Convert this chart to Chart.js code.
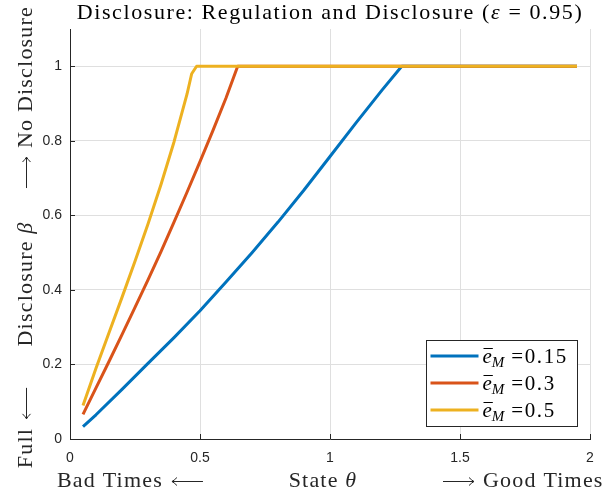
<!DOCTYPE html>
<html>
<head>
<meta charset="utf-8">
<script src="https://cdn.jsdelivr.net/npm/chart.js@4.4.0/dist/chart.umd.min.js"></script>
<style>
  html, body { margin: 0; padding: 0; background: #fff; }
  canvas { display: block; }
</style>
</head>
<body>
<canvas id="chart" width="604" height="494"></canvas>
<script>
// values (state theta -> disclosure beta)
const thetaBlue = [0.05, 0.1, 0.2, 0.3, 0.4, 0.5, 0.6, 0.7, 0.8, 0.9, 1.0, 1.1, 1.2, 1.276, 1.4, 1.6, 1.8, 1.95];
const betaBlue = [0.033, 0.065, 0.133, 0.203, 0.272, 0.344, 0.421, 0.5, 0.582, 0.668, 0.758, 0.848, 0.936, 1, 1, 1, 1, 1];

const thetaOrange = [0.05, 0.1, 0.15, 0.2, 0.25, 0.3, 0.35, 0.4, 0.45, 0.5, 0.55, 0.6, 0.645, 0.8, 1.0, 1.4, 1.95];
const betaOrange = [0.066, 0.137, 0.208, 0.28, 0.353, 0.427, 0.503, 0.582, 0.662, 0.744, 0.828, 0.915, 1, 1, 1, 1, 1];

const thetaYellow = [0.05, 0.1, 0.15, 0.2, 0.25, 0.3, 0.35, 0.4, 0.45, 0.468, 0.487, 0.6, 1.0, 1.4, 1.95];
const betaYellow = [0.09, 0.19, 0.285, 0.38, 0.477, 0.577, 0.683, 0.797, 0.925, 0.98, 1, 1, 1, 1, 1];

const eBarValues = ['0.15', '0.3', '0.5'];
const lineColors = ['#0072BD', '#D95319', '#EDB120'];
const xTicks = [0, 0.5, 1, 1.5, 2];
const yTicks = [0, 0.2, 0.4, 0.6, 0.8, 1];

const serif = '"Liberation Serif", "DejaVu Serif", serif';
const sans = '"Liberation Sans", Arial, sans-serif';
const ink = '#262626';

function pts(xs, ys) {
  return xs.map((x, i) => ({ x: x, y: ys[i] }));
}

const rm = s => s + 'px ' + serif;
const it = s => 'italic ' + s + 'px ' + serif;
const fmt = v => String(Math.round(v * 10) / 10);

// a run is text, a blank gap, or a long arrow (dir -1 / +1) of width w
function runWidth(ctx, r) {
  if (r.w) return r.w;
  ctx.font = r.font;
  return ctx.measureText(r.t).width;
}

function drawArrow(ctx, x, y, w, dir) {
  const ym = y - 5.5;
  const tip = dir > 0 ? x + w : x;
  ctx.save();
  ctx.strokeStyle = ctx.fillStyle;
  ctx.lineWidth = 1;
  ctx.beginPath();
  ctx.moveTo(x, ym); ctx.lineTo(x + w, ym);
  ctx.moveTo(tip - dir * 5, ym - 4);
  ctx.quadraticCurveTo(tip - dir * 2, ym - 1, tip, ym);
  ctx.quadraticCurveTo(tip - dir * 2, ym + 1, tip - dir * 5, ym + 4);
  ctx.stroke();
  ctx.restore();
}

function drawRuns(ctx, runs, x, y, align) {
  const total = runs.reduce((s, r) => s + runWidth(ctx, r), 0);
  let cx = align === 'center' ? x - total / 2 : (align === 'right' ? x - total : x);
  ctx.textAlign = 'left';
  runs.forEach(r => {
    if (r.dir) {
      drawArrow(ctx, cx, y, r.w, r.dir);
    } else if (r.t) {
      ctx.font = r.font;
      ctx.fillText(r.t, cx, y);
    }
    cx += runWidth(ctx, r);
  });
}

const LS = 22;
const leftArrow = { dir: -1, w: 31 };
const rightArrow = { dir: 1, w: 31 };
const gap = { w: 9 };

const decor = {
  id: 'decor',
  afterDraw(chart) {
    const ctx = chart.ctx;
    const a = chart.chartArea;
    const sx = chart.scales.x, sy = chart.scales.y;
    ctx.save();

    // inward ticks, matlab style
    ctx.strokeStyle = ink;
    ctx.lineWidth = 1;
    ctx.beginPath();
    xTicks.forEach(v => {
      const p = Math.round(sx.getPixelForValue(v)) + 0.5;
      ctx.moveTo(p, a.bottom); ctx.lineTo(p, a.bottom - 5);
    });
    yTicks.forEach(v => {
      const p = Math.round(sy.getPixelForValue(v)) + 0.5;
      ctx.moveTo(a.left, p); ctx.lineTo(a.left + 5, p);
    });
    ctx.stroke();

    ctx.textBaseline = 'alphabetic';

    // title
    ctx.fillStyle = '#000';
    ctx.letterSpacing = '1.6px';
    const title = [
      { t: 'Disclosure: Regulation and Disclosure (', font: rm(22) },
      { t: 'ε', font: it(22) },
      { t: ' = 0.95)', font: rm(22) }
    ];
    drawRuns(ctx, title, (a.left + a.right) / 2, 19, 'center');

    // x label in three parts
    ctx.fillStyle = ink;
    ctx.letterSpacing = '1.2px';
    drawRuns(ctx, [{ t: 'Bad Times', font: rm(LS) }, gap, leftArrow], 57, 487, 'left');
    drawRuns(ctx, [{ t: 'State ', font: rm(LS) }, { t: 'θ', font: it(LS) }], 323, 487, 'center');
    drawRuns(ctx, [rightArrow, gap, { t: 'Good Times', font: rm(LS) }], 443, 487, 'left');

    // y label, rotated
    const yParts = [
      { runs: [{ t: 'Full', font: rm(LS) }, gap, leftArrow], c: 428 },
      { runs: [{ t: 'Disclosure ', font: rm(LS) }, { t: 'β', font: it(LS) }], c: 284 },
      { runs: [rightArrow, gap, { t: 'No Disclosure', font: rm(LS) }], c: 97 }
    ];
    yParts.forEach(p => {
      ctx.save();
      ctx.translate(32, p.c);
      ctx.rotate(-Math.PI / 2);
      drawRuns(ctx, p.runs, 0, 0, 'center');
      ctx.restore();
    });

    // legend box
    ctx.letterSpacing = '0px';
    const bx = 426.5, by = 340.5, bw = 151, bh = 86;
    ctx.fillStyle = '#fff';
    ctx.fillRect(bx, by, bw, bh);
    ctx.strokeStyle = ink;
    ctx.lineWidth = 1;
    ctx.strokeRect(bx, by, bw, bh);
    eBarValues.forEach((v, i) => {
      const ry = by + 15.5 + i * 27;
      ctx.strokeStyle = lineColors[i];
      ctx.lineWidth = 3;
      ctx.beginPath();
      ctx.moveTo(bx + 4, ry); ctx.lineTo(bx + 52, ry);
      ctx.stroke();

      ctx.fillStyle = '#000';
      let tx = bx + 56;
      const base = ry + 7;
      ctx.font = it(21);
      const ew = ctx.measureText('e').width;
      ctx.fillText('e', tx, base);
      ctx.lineWidth = 1;
      ctx.strokeStyle = '#000';
      ctx.beginPath();
      ctx.moveTo(tx + 1, base - 14.5); ctx.lineTo(tx + ew + 1, base - 14.5);
      ctx.stroke();
      tx += ew;
      ctx.font = it(15);
      ctx.fillText('M', tx, base + 4);
      tx += ctx.measureText('M').width + 7;
      ctx.font = rm(21);
      ctx.letterSpacing = '1.6px';
      ctx.fillText('=' + v, tx, base);
      ctx.letterSpacing = '0px';
    });

    ctx.restore();
  }
};

new Chart(document.getElementById('chart'), {
  type: 'line',
  data: {
    datasets: [
      { label: eBarValues[0], data: pts(thetaBlue, betaBlue), borderColor: lineColors[0], order: 3 },
      { label: eBarValues[1], data: pts(thetaOrange, betaOrange), borderColor: lineColors[1], order: 2 },
      { label: eBarValues[2], data: pts(thetaYellow, betaYellow), borderColor: lineColors[2], order: 1 }
    ]
  },
  options: {
    responsive: false,
    animation: false,
    layout: { padding: { left: 0, top: 29, right: 14, bottom: 0 } },
    elements: {
      line: { borderWidth: 3, tension: 0, fill: false, borderJoinStyle: 'round' },
      point: { radius: 0 }
    },
    plugins: {
      legend: { display: false },
      title: { display: false },
      tooltip: { enabled: false }
    },
    scales: {
      x: {
        type: 'linear',
        min: 0,
        max: 2,
        ticks: { stepSize: 0.5, callback: fmt, color: ink, padding: 11, font: { family: sans, size: 14 } },
        grid: { color: '#dfdfdf', drawTicks: false },
        border: { color: ink, width: 1 },
        afterFit: s => { s.height = 55; s.paddingLeft = 0; s.paddingRight = 0; }
      },
      y: {
        min: 0,
        max: 1.1,
        afterBuildTicks: s => { s.ticks = yTicks.map(v => ({ value: v })); },
        ticks: { callback: fmt, color: ink, padding: 8, font: { family: sans, size: 14 } },
        grid: { color: '#dfdfdf', drawTicks: false },
        border: { color: ink, width: 1 },
        afterFit: s => { s.width = 70; s.paddingTop = 0; s.paddingBottom = 0; }
      }
    }
  },
  plugins: [decor]
});
</script>
</body>
</html>
